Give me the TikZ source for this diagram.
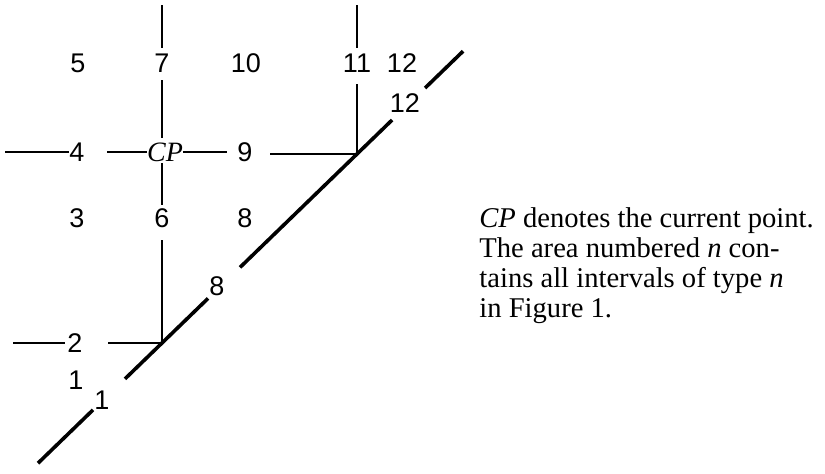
\documentclass[tikz,border=0pt]{standalone}
\usepackage{fontspec}
\setmainfont{Liberation Serif}
\newfontfamily\numfont{Liberation Sans}
\usetikzlibrary{calc}

\begin{document}
\begin{tikzpicture}[
x=0.5pt,
y=-0.5pt,
every node/.style={
inner sep=0pt
},
num/.style={font=\numfont\fontsize{13.5}{15}\selectfont},
seg/.style={line width=1.4pt},
diag/.style={line width=1.8pt}
]
\useasboundingbox (0,0) rectangle (825,473);
% area numbers
\node[num] (n5) at (78,63) {5};
\node[num] (n7) at (162,63) {7};
\node[num] (n10) at (246,63) {10};
\node[num] (n11) at (357,63) {11};
\node[num] (n12) at (402,63) {12};
\node[num] (n4) at (77,152) {4};
\node[font=\fontsize{14}{16}\selectfont\itshape] (cp) at (165,152) {CP};
\node[num] (n9) at (245,152) {9};
\node[num] (n3) at (77,218) {3};
\node[num] (n6) at (162,218) {6};
\node[num] (n8) at (245,218) {8};
\node[num] (n8d) at (217,286) {8};
\node[num] (n12d) at (405,103) {12};
\node[num] (n2) at (75,343) {2};
\node[num] (n1) at (76,380) {1};
\node[num] (n1d) at (102,400) {1};
% corners
\coordinate (low) at (162,343);
\coordinate (high) at (357,154);
% line ends
\coordinate (top7) at (162,5);
\coordinate (top11) at (357,5);
\coordinate (left4) at (5,152);
\coordinate (left2) at (13,343);
% vertical through CP
\draw[seg] (top7) -- (162,48);
\draw[seg] (162,80) -- (162,138);
\draw[seg] (162,163) -- (162,205);
\draw[seg] (162,240) -- (low);
% vertical to the upper corner
\draw[seg] (top11) -- (357,48);
\draw[seg] (357,84) -- (high);
% horizontal through CP
\draw[seg] (left4) -- (n4.west);
\draw[seg] (107,152) -- (cp.west);
\draw[seg] (cp.east) -- (227,152);
\draw[seg] (270,154) -- (high);
% horizontal to the lower corner
\draw[seg] (left2) -- (65,343);
\draw[seg] (108,343) -- (low);
% diagonal
\draw[diag] ($(low)!-0.636!(high)$) -- ($(low)!-0.354!(high)$);
\draw[diag] ($(low)!-0.19!(high)$) -- ($(low)!0.236!(high)$);
\draw[diag] ($(low)!0.4!(high)$) -- ($(low)!1.18!(high)$);
\draw[diag] ($(low)!1.349!(high)$) -- ($(low)!1.544!(high)$);
% caption
\node[anchor=north west, align=left, font=\fontsize{14.3}{15}\selectfont] (note) at (479,207)
{\textit{CP} denotes the current point.\\
The area numbered \textit{n} con-\\
tains all intervals of type \textit{n}\\
in Figure 1.};
\end{tikzpicture}
\end{document}
